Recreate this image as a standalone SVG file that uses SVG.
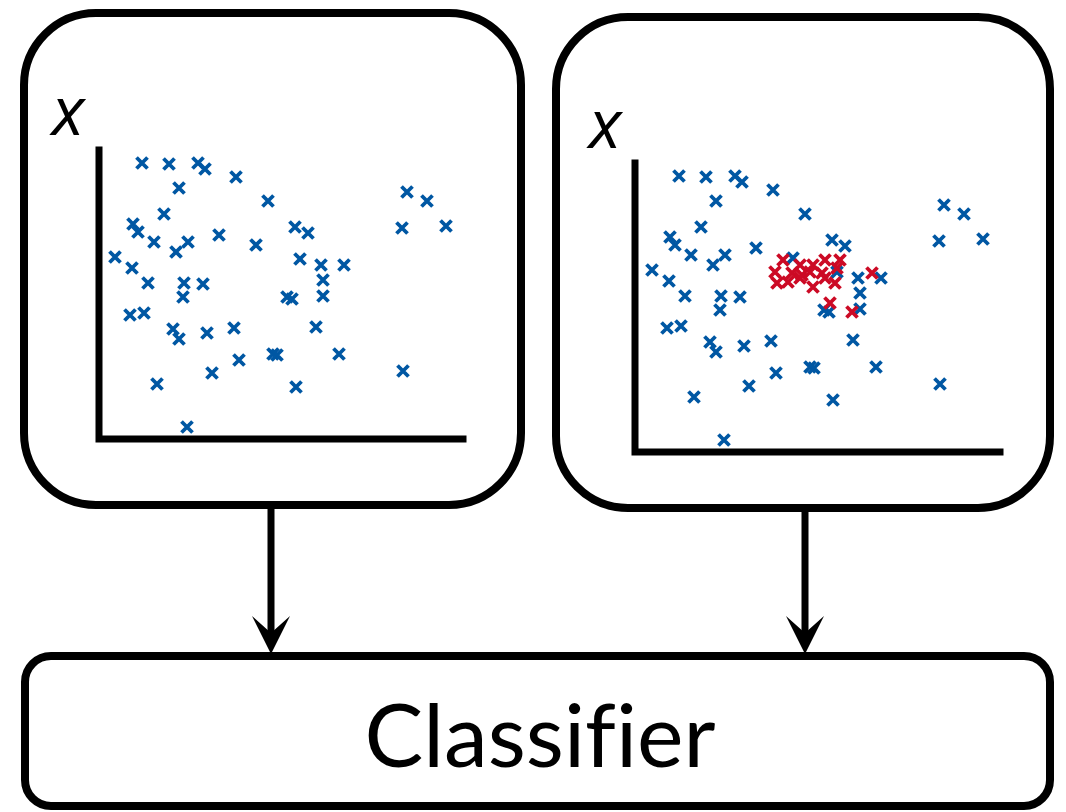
<svg xmlns="http://www.w3.org/2000/svg" xmlns:xlink="http://www.w3.org/1999/xlink" width="1066" height="812" viewBox="0 0 1066 812">
  <style>
    .box { fill: #ffffff; stroke: #000000; stroke-width: 8; }
    .axis { fill: none; stroke: #000000; stroke-width: 7; stroke-linecap: square; }
    .blue { stroke: #0057a3; }
    .red { stroke: #cc0a25; }
    .mk { fill: none; stroke-width: 3.8; }
    .shaft { stroke: #000000; stroke-width: 7; }
    .head { fill: #000000; }
    .var { font-family: "Open Sans", "Liberation Sans", sans-serif; font-style: italic; font-weight: 400; font-size: 68px; fill: #000000; }
    .label { font-family: Lato, "Liberation Sans", sans-serif; font-weight: 400; font-size: 88px; fill: #000000; font-variant-ligatures: none; font-feature-settings: "liga" 0; }
  </style>
  <defs>
    <path id="x" d="M-5.5,-5.5L5.5,5.5M-5.5,5.5L5.5,-5.5"/>
    <!-- shared background scatter -->
    <g id="scatter" class="mk blue">
      <use xlink:href="#x" x="142" y="163"/>
      <use xlink:href="#x" x="169" y="164"/>
      <use xlink:href="#x" x="198" y="163"/>
      <use xlink:href="#x" x="205" y="169"/>
      <use xlink:href="#x" x="236" y="177"/>
      <use xlink:href="#x" x="179" y="188"/>
      <use xlink:href="#x" x="268" y="201"/>
      <use xlink:href="#x" x="164" y="214"/>
      <use xlink:href="#x" x="133" y="224"/>
      <use xlink:href="#x" x="138" y="232"/>
      <use xlink:href="#x" x="154" y="242"/>
      <use xlink:href="#x" x="176" y="252"/>
      <use xlink:href="#x" x="188" y="242"/>
      <use xlink:href="#x" x="219" y="235"/>
      <use xlink:href="#x" x="256" y="245"/>
      <use xlink:href="#x" x="115" y="257"/>
      <use xlink:href="#x" x="132" y="268"/>
      <use xlink:href="#x" x="148" y="283"/>
      <use xlink:href="#x" x="184" y="283"/>
      <use xlink:href="#x" x="203" y="284"/>
      <use xlink:href="#x" x="183" y="297"/>
      <use xlink:href="#x" x="130" y="315"/>
      <use xlink:href="#x" x="144" y="313"/>
      <use xlink:href="#x" x="173" y="329"/>
      <use xlink:href="#x" x="179" y="339"/>
      <use xlink:href="#x" x="207" y="333"/>
      <use xlink:href="#x" x="234" y="328"/>
      <use xlink:href="#x" x="239" y="360"/>
      <use xlink:href="#x" x="212" y="373"/>
      <use xlink:href="#x" x="157" y="384"/>
      <use xlink:href="#x" x="187" y="427"/>
      <use xlink:href="#x" x="273" y="354"/>
      <use xlink:href="#x" x="277" y="355"/>
      <use xlink:href="#x" x="295" y="227"/>
      <use xlink:href="#x" x="308" y="233"/>
      <use xlink:href="#x" x="300" y="259"/>
      <use xlink:href="#x" x="321" y="265"/>
      <use xlink:href="#x" x="344" y="265"/>
      <use xlink:href="#x" x="323" y="280"/>
      <use xlink:href="#x" x="323" y="296"/>
      <use xlink:href="#x" x="287" y="297"/>
      <use xlink:href="#x" x="292" y="299"/>
      <use xlink:href="#x" x="316" y="327"/>
      <use xlink:href="#x" x="339" y="354"/>
      <use xlink:href="#x" x="296" y="387"/>
      <use xlink:href="#x" x="407" y="192"/>
      <use xlink:href="#x" x="427" y="201"/>
      <use xlink:href="#x" x="402" y="228"/>
      <use xlink:href="#x" x="446" y="226"/>
      <use xlink:href="#x" x="403" y="371"/>
    </g>
  </defs>

  <rect width="1066" height="812" fill="#ffffff"/>

  <!-- left panel: unlabelled data -->
  <g id="panel-left">
    <rect class="box" x="24" y="13" width="497" height="492" rx="72" ry="72"/>
    <path class="axis" d="M99,150V439H463"/>
    <text class="var" x="68" y="135" text-anchor="middle">x</text>
    <use xlink:href="#scatter"/>
  </g>

  <!-- right panel: same data with highlighted cluster -->
  <g id="panel-right">
    <rect class="box" x="556" y="17" width="494" height="491" rx="72" ry="72"/>
    <path class="axis" d="M635,163V452H1000"/>
    <text class="var" x="605" y="148" text-anchor="middle">x</text>
    <use xlink:href="#scatter" transform="translate(537,13)"/>
    <g class="mk red">
      <use xlink:href="#x" x="783" y="260"/>
      <use xlink:href="#x" x="800" y="265"/>
      <use xlink:href="#x" x="813" y="265"/>
      <use xlink:href="#x" x="825" y="260"/>
      <use xlink:href="#x" x="840" y="260"/>
      <use xlink:href="#x" x="775" y="272"/>
      <use xlink:href="#x" x="792" y="273"/>
      <use xlink:href="#x" x="802" y="275"/>
      <use xlink:href="#x" x="810" y="272"/>
      <use xlink:href="#x" x="822" y="273"/>
      <use xlink:href="#x" x="837" y="268"/>
      <use xlink:href="#x" x="777" y="283"/>
      <use xlink:href="#x" x="788" y="282"/>
      <use xlink:href="#x" x="800" y="278"/>
      <use xlink:href="#x" x="813" y="287"/>
      <use xlink:href="#x" x="825" y="278"/>
      <use xlink:href="#x" x="835" y="283"/>
      <use xlink:href="#x" x="830" y="303"/>
      <use xlink:href="#x" x="852" y="312"/>
      <use xlink:href="#x" x="872" y="273"/>
    </g>
  </g>

  <!-- classifier -->
  <g id="classifier">
    <rect class="box" x="25" y="656" width="1025" height="150" rx="26" ry="26"/>
    <text class="label" x="540" y="767" text-anchor="middle">Classifier</text>
  </g>

  <!-- connectors -->
  <g id="connectors">
    <line class="shaft" x1="271" y1="505" x2="271" y2="638"/>
    <path class="head" d="M271,654L252,616L271,633L290,616Z"/>
    <line class="shaft" x1="805" y1="508" x2="805" y2="638"/>
    <path class="head" d="M805,654L786,616L805,633L824,616Z"/>
  </g>
</svg>
